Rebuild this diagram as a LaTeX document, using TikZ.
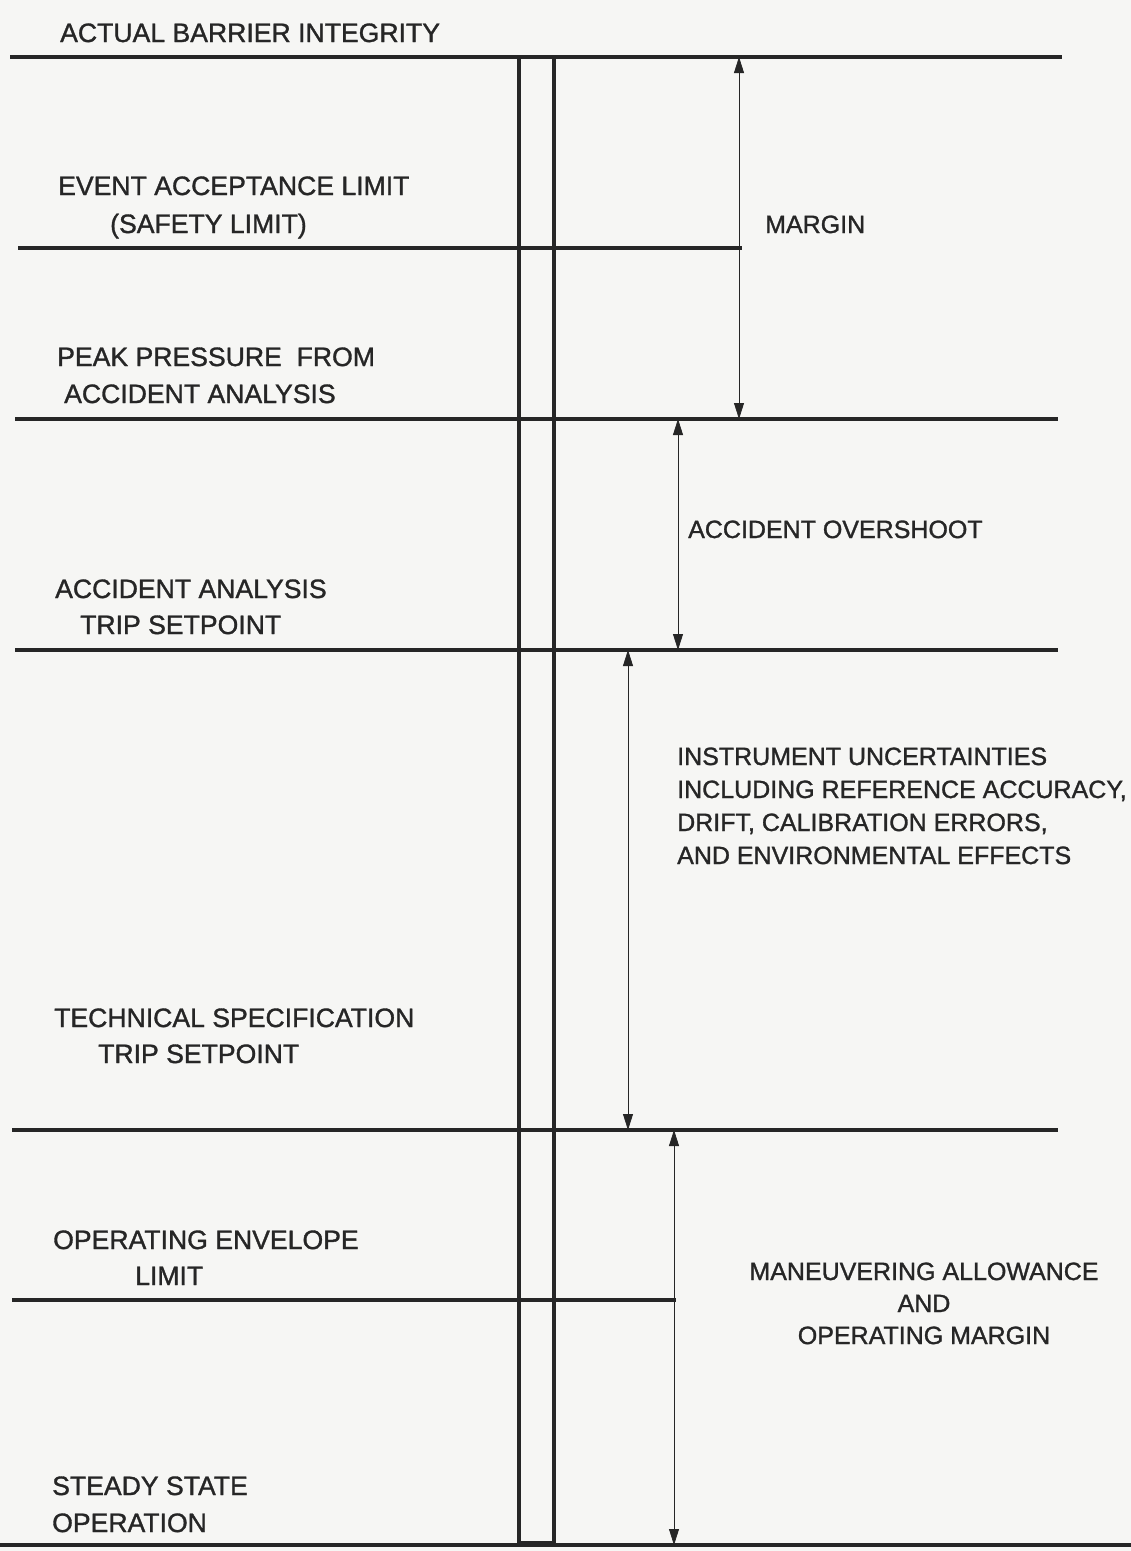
\documentclass[tikz,border=0pt]{standalone}
\usepackage{fontspec}
\setmainfont{Liberation Sans}[FakeBold=1.2]
\usetikzlibrary{arrows.meta}
\definecolor{ink}{RGB}{38,38,38}
\definecolor{paper}{RGB}{246,246,244}
\begin{document}
\begin{tikzpicture}[x=1pt,y=-1pt,
  lbl/.style={anchor=base west,inner sep=0pt,text=ink,font=\fontsize{26.6}{30}\selectfont},
  rlbl/.style={anchor=base west,inner sep=0pt,text=ink,font=\fontsize{25}{30}\selectfont},
  clbl/.style={anchor=base,inner sep=0pt,text=ink,font=\fontsize{25}{30}\selectfont},
  level/.style={draw=ink,line width=3.2pt},
  rail/.style={draw=ink,line width=3.8pt},
  dim/.style={draw=ink,line width=0.8pt,{Triangle[length=16pt,width=10pt]}-{Triangle[length=16pt,width=10pt]}}]
\fill[paper] (0,0) rectangle (1131,1551);
\useasboundingbox (0,0) rectangle (1131,1551);
% level lines
\coordinate (l1a) at (10,57);   \coordinate (l1b) at (1062,57);
\coordinate (l2a) at (18,248);  \coordinate (l2b) at (742,248);
\coordinate (l3a) at (15,419);  \coordinate (l3b) at (1058,419);
\coordinate (l4a) at (15,650);  \coordinate (l4b) at (1058,650);
\coordinate (l5a) at (12,1130); \coordinate (l5b) at (1058,1130);
\coordinate (l6a) at (12,1300); \coordinate (l6b) at (676,1300);
\coordinate (l7a) at (0,1545);  \coordinate (l7b) at (1131,1545);
\draw[level] (l1a) -- (l1b);
\draw[level] (l2a) -- (l2b);
\draw[level] (l3a) -- (l3b);
\draw[level] (l4a) -- (l4b);
\draw[level] (l5a) -- (l5b);
\draw[level] (l6a) -- (l6b);
\draw[level] (l7a) -- (l7b);
% column
\coordinate (ctl) at (519,56); \coordinate (ctr) at (554,56);
\coordinate (cbl) at (519,1543); \coordinate (cbr) at (554,1543);
\draw[rail] (ctl) -- (cbl);
\draw[rail] (ctr) -- (cbr);
\draw[rail] (cbl) -- (cbr);
% dimension arrows
\coordinate (m1) at (739,57);  \coordinate (m2) at (739,419);
\coordinate (o1) at (678,419); \coordinate (o2) at (678,650);
\coordinate (i1) at (628,650); \coordinate (i2) at (628,1130);
\coordinate (v1) at (674,1130);\coordinate (v2) at (674,1545);
\draw[dim] (m1) -- (m2);
\draw[dim] (o1) -- (o2);
\draw[dim] (i1) -- (i2);
\draw[dim] (v1) -- (v2);
% left labels
\node[lbl] (t1) at (60,42) {ACTUAL BARRIER INTEGRITY};
\node[lbl] (t2a) at (58,195) {EVENT ACCEPTANCE LIMIT};
\node[lbl] (t2b) at (110,233) {(SAFETY LIMIT)};
\node[lbl] (t3a) at (57,366) {PEAK PRESSURE\ \ FROM};
\node[lbl] (t3b) at (64,403) {ACCIDENT ANALYSIS};
\node[lbl] (t4a) at (55,598) {ACCIDENT ANALYSIS};
\node[lbl] (t4b) at (80,634) {TRIP SETPOINT};
\node[lbl] (t5a) at (54,1027) {TECHNICAL SPECIFICATION};
\node[lbl] (t5b) at (98,1063) {TRIP SETPOINT};
\node[lbl] (t6a) at (53,1249) {OPERATING ENVELOPE};
\node[lbl] (t6b) at (135,1285) {LIMIT};
\node[lbl] (t7a) at (52,1495) {STEADY STATE};
\node[lbl] (t7b) at (52,1532) {OPERATION};
% right labels
\node[rlbl] (r1) at (765,233) {MARGIN};
\node[rlbl] (r2) at (688,538) {ACCIDENT OVERSHOOT};
\node[rlbl] (r3a) at (677,765) {INSTRUMENT UNCERTAINTIES};
\node[rlbl] (r3b) at (677,798) {INCLUDING REFERENCE ACCURACY,};
\node[rlbl] (r3c) at (677,831) {DRIFT, CALIBRATION ERRORS,};
\node[rlbl] (r3d) at (677,864) {AND ENVIRONMENTAL EFFECTS};
\node[clbl] (r4a) at (924,1280) {MANEUVERING ALLOWANCE};
\node[clbl] (r4b) at (924,1312) {AND};
\node[clbl] (r4c) at (924,1344) {OPERATING MARGIN};
\end{tikzpicture}
\end{document}
